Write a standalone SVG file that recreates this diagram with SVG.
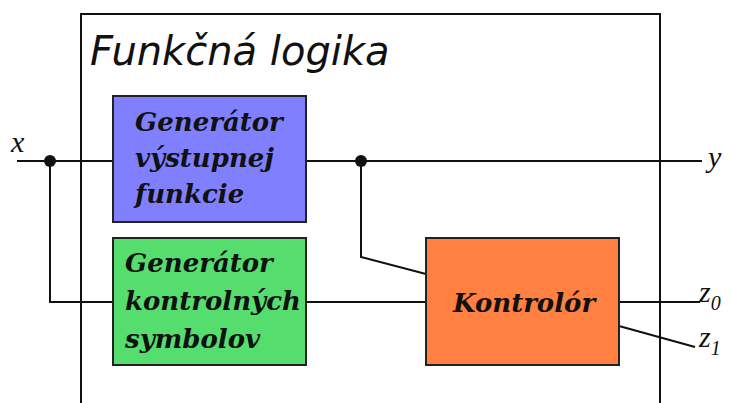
<svg xmlns="http://www.w3.org/2000/svg" width="731" height="403" viewBox="0 0 731 403">
  <style>
    .wire { fill: none; stroke: #111; stroke-width: 2; }
    .box { stroke: #222; stroke-width: 2; }
    .lbl { font-family: "DejaVu Serif", serif; font-style: italic; font-weight: bold; font-size: 26px; fill: #111; }
    .sig { font-family: "Liberation Serif", serif; font-style: italic; font-size: 30px; fill: #111; }
    .sub { font-size: 20px; }
  </style>
  <rect width="731" height="403" fill="#fff"/>

  <!-- enclosing frame -->
  <g id="frame">
    <path class="wire" d="M81 410 V14 H660 V410"/>
    <text x="90" y="65" font-family="DejaVu Sans, sans-serif" font-style="italic" font-size="40" fill="#111">Funkčná logika</text>
  </g>

  <!-- wiring -->
  <g id="connectors">
    <path class="wire" d="M17 161 H113"/>
    <path class="wire" d="M50 161 V302 H113"/>
    <path class="wire" d="M306 161 H702"/>
    <path class="wire" d="M361 161 V257 L426 274"/>
    <path class="wire" d="M306 302 H426"/>
    <path class="wire" d="M619 302 H700"/>
    <path class="wire" d="M619 326 L695 347"/>
    <circle cx="50" cy="161" r="6" fill="#111"/>
    <circle cx="361" cy="161" r="6" fill="#111"/>
  </g>

  <g id="gen-vystup">
    <rect class="box" x="113" y="96" width="193" height="126" fill="#8080ff"/>
    <text class="lbl" x="135" y="131">Generátor</text>
    <text class="lbl" x="135" y="167">výstupnej</text>
    <text class="lbl" x="135" y="203">funkcie</text>
  </g>

  <g id="gen-kontrol">
    <rect class="box" x="113" y="238" width="193" height="127" fill="#55dd6e"/>
    <text class="lbl" x="125" y="272">Generátor</text>
    <text class="lbl" x="125" y="310">kontrolných</text>
    <text class="lbl" x="125" y="348">symbolov</text>
  </g>

  <g id="kontrolor">
    <rect class="box" x="426" y="238" width="193" height="127" fill="#ff8040"/>
    <text class="lbl" x="524" y="312" text-anchor="middle">Kontrolór</text>
  </g>

  <!-- signal names -->
  <g id="signals">
    <text class="sig" x="11" y="152">x</text>
    <text class="sig" x="708" y="167">y</text>
    <text class="sig" x="699" y="302">z<tspan class="sub" dy="8">0</tspan></text>
    <text class="sig" x="699" y="347">z<tspan class="sub" dy="8">1</tspan></text>
  </g>
</svg>
